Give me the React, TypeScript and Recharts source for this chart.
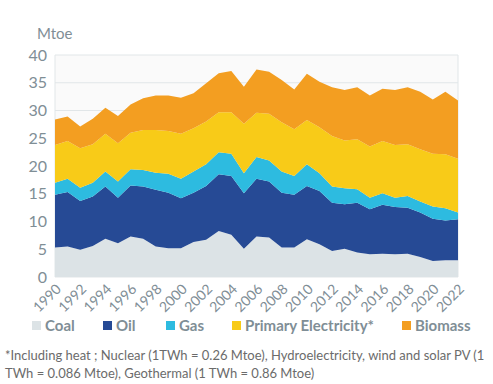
import { AreaChart, Area, XAxis, YAxis, CartesianGrid, Legend } from "recharts";

const years = [
  1990, 1991, 1992, 1993, 1994, 1995, 1996, 1997, 1998, 1999, 2000, 2001, 2002, 2003, 2004, 2005, 2006,
  2007, 2008, 2009, 2010, 2011, 2012, 2013, 2014, 2015, 2016, 2017, 2018, 2019, 2020, 2021, 2022,
];
const coal = [5.3, 5.5, 4.9, 5.6, 6.9, 6.1, 7.3, 6.9, 5.5, 5.2, 5.2, 6.3, 6.7, 8.3, 7.6, 5.1, 7.3, 7.1, 5.3, 5.3, 6.8, 5.9, 4.7, 5.1, 4.4, 4.1, 4.2, 4.1, 4.2, 3.6, 2.9, 3.0, 3.0];
const oil = [9.5, 9.8, 8.8, 8.9, 9.4, 8.2, 9.2, 9.4, 10.2, 10.0, 9.0, 8.9, 9.7, 10.2, 10.6, 10.0, 10.4, 10.1, 9.9, 9.5, 9.6, 9.6, 8.7, 8.0, 9.0, 8.1, 8.8, 8.5, 8.3, 8.0, 7.6, 7.2, 7.4];
const gas = [2.2, 2.4, 2.4, 2.5, 2.7, 2.9, 2.9, 3.0, 3.1, 3.4, 3.5, 3.8, 3.9, 4.0, 4.0, 3.6, 3.9, 3.8, 3.8, 3.4, 3.9, 3.2, 2.9, 2.9, 2.4, 2.1, 2.1, 1.7, 2.1, 2.0, 2.2, 2.2, 1.2];
const primElec = [6.8, 6.8, 7.1, 6.9, 6.8, 6.9, 6.6, 7.2, 7.7, 7.7, 8.1, 7.8, 7.7, 7.2, 7.5, 8.9, 8.0, 8.4, 8.9, 8.4, 8.0, 8.3, 9.1, 8.6, 9.0, 9.2, 9.4, 9.5, 9.3, 9.4, 9.5, 9.7, 9.7];
const biomass = [4.6, 4.4, 3.9, 4.6, 4.7, 4.9, 5.1, 5.7, 6.2, 6.4, 6.5, 6.3, 6.9, 7.0, 7.4, 6.7, 7.8, 7.6, 7.6, 7.2, 8.3, 8.2, 8.8, 9.1, 9.4, 9.2, 9.4, 9.9, 10.3, 10.4, 9.8, 11.3, 10.5];
const yTicks = [0, 5, 10, 15, 20, 25, 30, 35, 40];

// legend x is where each legend swatch starts
const series = [
  { key: "coal", name: "Coal", color: "#dce3e6", legendX: 32 },
  { key: "oil", name: "Oil", color: "#264a95", legendX: 103 },
  { key: "gas", name: "Gas", color: "#2dbbe0", legendX: 166 },
  { key: "primElec", name: "Primary Electricity*", color: "#f8cb18", legendX: 232 },
  { key: "biomass", name: "Biomass", color: "#f39e21", legendX: 402 },
];

const data = years.map((y, i) => ({
  year: String(y),
  coal: coal[i],
  oil: oil[i],
  gas: gas[i],
  primElec: primElec[i],
  biomass: biomass[i],
}));

const FONT = "Lato, 'Noto Sans', sans-serif";
const GREY = "#7f8e96";

function LegendRow() {
  return (
    <div style={{ position: "relative", width: 493, height: 20, fontFamily: FONT }}>
      {series.map((s) => (
        <div key={s.key} style={{ position: "absolute", left: s.legendX, top: 0, height: 20, display: "flex", alignItems: "center", whiteSpace: "nowrap" }}>
          <span style={{ width: 9, height: 9, background: s.color, marginRight: 4, display: "inline-block" }} />
          <span style={{ fontWeight: 700, fontSize: 15, color: GREY }}>{s.name}</span>
        </div>
      ))}
    </div>
  );
}

export default function App() {
  return (
    <div style={{ position: "absolute", left: 0, top: 0, width: 493, height: 384, background: "#fff", fontFamily: FONT }}>
      <div style={{ position: "absolute", left: 37, top: 24, fontSize: 15, color: GREY }}>Mtoe</div>
      <AreaChart width={493} height={340} data={data} margin={{ top: 55, right: 35, left: 15, bottom: 0 }} style={{ fontFamily: FONT }}>
        <CartesianGrid
          vertical={true}
          fill="#fafafa"
          stroke="#e1e6e8"
          verticalCoordinatesGenerator={({ offset }: any) => [offset.left, offset.left + offset.width]}
        />
        <XAxis
          dataKey="year"
          interval={1}
          angle={-45}
          textAnchor="end"
          height={45}
          tickLine={false}
          axisLine={false}
          tick={{ fill: GREY, fontSize: 14 }}
          dy={-2}
        />
        <YAxis
          domain={[0, 40]}
          ticks={yTicks}
          width={40}
          tickLine={false}
          axisLine={false}
          tick={{ fill: GREY, fontSize: 16 }}
        />
        {series.map((s) => (
          <Area
            key={s.key}
            type="linear"
            dataKey={s.key}
            name={s.name}
            stackId="1"
            stroke="none"
            fill={s.color}
            fillOpacity={1}
            isAnimationActive={false}
          />
        ))}
        <Legend
          content={() => <LegendRow />}
          verticalAlign="bottom"
          height={18}
          wrapperStyle={{ left: 0, width: 493, top: 315 }}
        />
      </AreaChart>
      <div style={{ position: "absolute", left: 5, top: 346, fontSize: 13, lineHeight: "18px", color: "#6b6b6b", whiteSpace: "nowrap" }}>
        *Including heat ; Nuclear (1TWh = 0.26 Mtoe), Hydroelectricity, wind and solar PV (1
        <br />
        TWh = 0.086 Mtoe), Geothermal (1 TWh = 0.86 Mtoe)
      </div>
    </div>
  );
}
